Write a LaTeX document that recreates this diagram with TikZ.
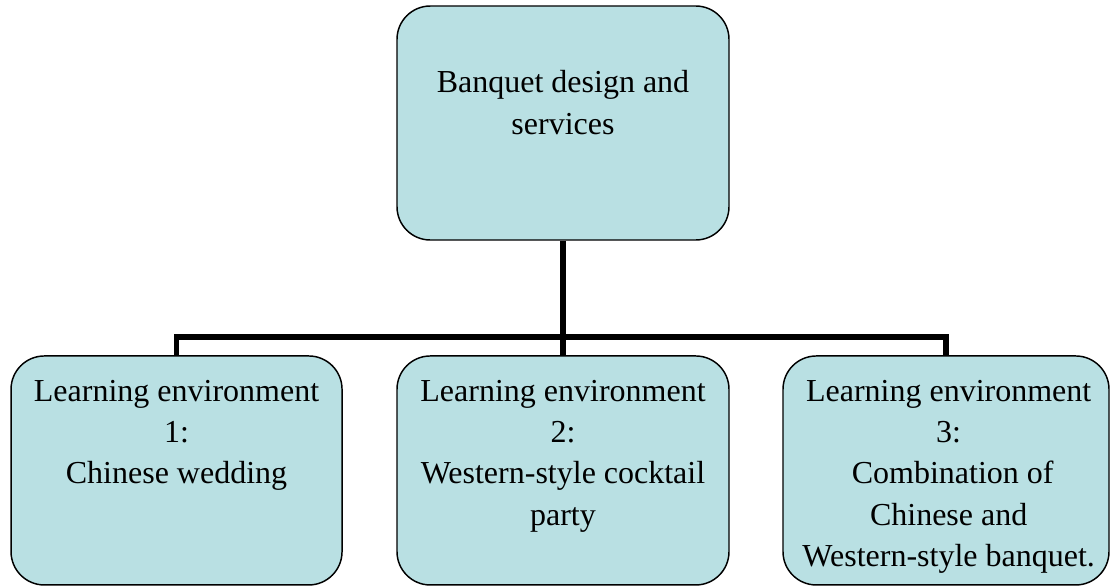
\documentclass[tikz,border=0pt]{standalone}
\usepackage{fontspec}
\setmainfont{Liberation Serif}
\definecolor{boxfill}{RGB}{185,224,227}
\tikzset{
  envbox/.style={draw=black, line width=1.1pt, fill=boxfill, rounded corners=25pt, inner sep=0pt},
  boxtext/.style={anchor=north, align=center, inner sep=0pt, font=\fontsize{24pt}{31pt}\selectfont},
  link/.style={draw=black, line width=4.2pt}
}
\begin{document}
\begin{tikzpicture}[x=1pt,y=1pt]
\useasboundingbox (0,0) rectangle (832.5,440.25);
% top box
\node[envbox, minimum width=249pt, minimum height=175.5pt] (top) at (422.25,348) {};
\node[boxtext] (toptext) at (422.25,387.5) {Banquet design and\\services};
% bottom boxes
\node[envbox, minimum width=248.25pt, minimum height=171.75pt] (left) at (132.4,87.4) {};
\node[envbox, minimum width=249pt, minimum height=171.75pt] (mid) at (422.25,87.4) {};
\node[envbox, minimum width=244.5pt, minimum height=171.75pt] (right) at (709.5,87.4) {};
\node[boxtext] (lefttext) at (132.4,155.5) {Learning environment\\1:\\Chinese wedding};
\node[boxtext] (midtext) at (422.25,155.5) {Learning environment\\2:\\Western-style cocktail\\party};
\node[boxtext] (righttext) at (711.5,155.5) {Learning environment\\3:\\\ Combination of\\Chinese and\\Western-style banquet.};
% connectors
\coordinate (j) at (422.25,187.5);
\begin{scope}[on background layer/.try]
\end{scope}
\draw[link] (top.south) -- (j);
\draw[link, line join=miter] (left.north) |- (j) -| (right.north);
\draw[link] (j) -- (mid.north);
\end{tikzpicture}
\end{document}
